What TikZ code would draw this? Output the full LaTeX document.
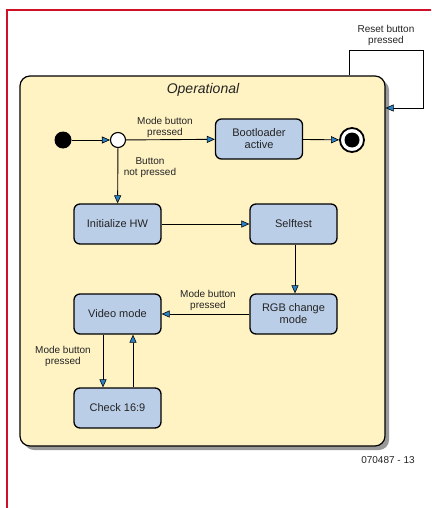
\documentclass[tikz,border=0pt]{standalone}
\usepackage{fontspec}
\setmainfont{Liberation Sans}
\definecolor{framered}{RGB}{208, 16, 40}
\definecolor{stateblue}{RGB}{187, 206, 232}
\definecolor{opyellow}{RGB}{255, 243, 196}
\definecolor{tipblue}{RGB}{40, 130, 200}
\definecolor{textdark}{RGB}{35, 35, 35}
\usetikzlibrary{arrows.meta, positioning, shadows}

\begin{document}
\begin{tikzpicture}[x=1pt, y=-1pt,
  state/.style={draw, line width=1.3pt, rounded corners=6pt, fill=stateblue, minimum width=87pt, minimum height=40pt, align=center, font=\fontsize{11}{12}\selectfont, text=textdark},
  flow/.style={draw, line width=0.9pt, -{Triangle[length=8pt, width=7pt, line width=0.6pt, fill=tipblue]}},
  lbl/.style={font=\fontsize{10}{11}\selectfont, align=center, text=textdark}]
  \useasboundingbox (0, 0) rectangle (431, 508);

  % Page frame
  \draw[framered, line width=2pt] (431, 10) -- (7, 10) -- (7, 508);

  % Superstate
  \node[draw, line width=1.2pt, rounded corners=10pt, fill=opyellow, minimum width=365pt, minimum height=370pt, drop shadow={shadow xshift=4pt, shadow yshift=-4pt, fill=black!40, opacity=1}] (oper) at (202.5, 261) {};
  \node[font=\fontsize{14}{16}\selectfont\itshape, text=textdark] (opname) at (203, 90) {Operational};

  % Reset transition
  \draw[flow] ([xshift=146.5pt]oper.north) |- (423, 50) |- ([yshift=153pt]oper.east);
  \node[lbl] (resetlbl) at (386, 35) {Reset button\\pressed};

  % Start, choice and end
  \node[circle, fill=black, minimum size=17pt, inner sep=0pt] (init) at (63, 140) {};
  \node[circle, draw, line width=1.1pt, fill=white, minimum size=15pt, inner sep=0pt] (choice) at (118, 140) {};
  \node[circle, draw, line width=1.8pt, fill=white, minimum size=24pt, inner sep=0pt, path picture={\fill[black] (path picture bounding box.center) circle (7.5pt);}] (final) at (352, 140) {};

  % States
  \node[state] (boot) at (259, 139) {Bootloader\\active};
  \node[state] (inithw) at (117.5, 224) {Initialize HW};
  \node[state] (selftest) at (293.5, 224) {Selftest};
  \node[state] (rgb) at (293.5, 314) {RGB change\\mode};
  \node[state] (video) at (117.5, 314) {Video mode};
  \node[state] (check) at (117.5, 408) {Check 16:9};

  % Transitions
  \draw[flow] (init) -- (choice);
  \draw[flow] (choice) -- (boot);
  \node[lbl] (modelbl) at (165, 127) {Mode button\\pressed};
  \draw[flow] (boot) -- (final);
  \draw[flow] (choice) -- (inithw);
  \node[lbl] (notlbl) at (150, 168) {Button\\not pressed};
  \draw[flow] (inithw) -- (selftest);
  \draw[flow] (selftest.south -| 295, 0) -- (rgb.north -| 295, 0);
  \draw[flow] (rgb) -- (video);
  \node[lbl] (rgblbl) at (208, 300) {Mode button\\pressed};
  \draw[flow] ([xshift=-14.5pt]video.south) -- ([xshift=-14.5pt]check.north);
  \node[lbl] (checklbl) at (63, 356) {Mode button\\pressed};
  \draw[flow] ([xshift=15.5pt]check.north) -- ([xshift=15.5pt]video.south);

  % Figure number
  \node[lbl] (fignum) at (388, 460) {070487 - 13};
\end{tikzpicture}
\end{document}
